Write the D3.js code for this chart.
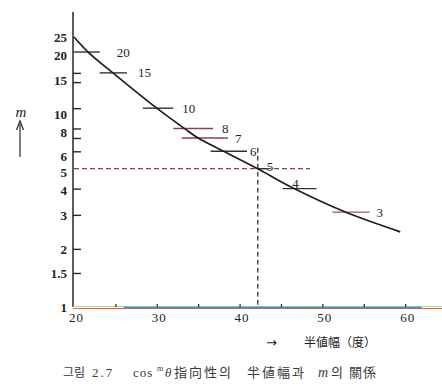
<!DOCTYPE html>
<html><head><meta charset="utf-8">
<script src="https://cdn.jsdelivr.net/npm/d3@7/dist/d3.min.js"></script>
<style>
html,body{margin:0;padding:0;background:#fff;}
svg{display:block;}
</style></head>
<body>
<svg id="chart" width="442" height="387"></svg>
<script>
// ---- data ----
const halfWidth = [20.0, 21.7, 24.7, 30.0, 33.4, 35.0, 38.2, 42.2, 46.4, 52.7, 59.4];
const mCurve    = [25.0, 20.9, 16.3, 10.7, 8.36, 7.5, 6.36, 5.19, 4.14, 3.11, 2.45];

const markerLabels = ["20", "15", "10", "8", "7", "6", "5", "4", "3"];
const markerLevel  = [20.9, 16.3, 10.7, 8.4, 7.5, 6.4, 5.2, 4.1, 3.1];
const markerFrom   = [20.0, 23.1, 28.3, 32.0, 33.0, 36.5, 42.2, 45.2, 51.2];
const markerTo     = [23.1, 26.4, 32.0, 36.8, 38.6, 40.9, 43.4, 49.3, 55.7];

const yLabelValues = [1, 1.5, 2, 3, 4, 5, 6, 8, 10, 15, 20, 25];
const yLabelText   = ["1", "1.5", "2", "3", "4", "5", "6", "8", "10", "15", "20", "25"];
const yTickValues  = [1.5, 2, 3, 4.1, 6.4, 7.5, 8.4, 10.7, 14.6, 16.3];
const xLabelValues = [20, 30, 40, 50, 60];
const xTickValues  = [25, 30, 35, 40, 45, 50, 55, 60];

const refWidth = 42.2, refM = 5.2, refLineEnd = 48.5, refVertTop = 6.67;

const xTitle = "半値幅（度）";
const yTitle = "m";

// ---- drawing ----
const svg = d3.select("#chart");
svg.append("rect").attr("width", 442).attr("height", 387).attr("fill", "#fff");

const x = d3.scaleLinear().domain([20, 64.45]).range([74, 442]);
const y = d3.scaleLog().domain([1, 25]).range([307, 37]);

const ink = "#262626", maroon = "#86405e";
const serif = "'Liberation Serif', 'DejaVu Serif', serif";

// y axis line
svg.append("line").attr("x1", x(20) - 1).attr("x2", x(20) - 1)
  .attr("y1", 12).attr("y2", y(1)).attr("stroke", ink).attr("stroke-width", 1.5);

// y ticks (inward)
const yTicksG = svg.append("g").attr("transform", `translate(${x(20) - 1},0)`)
  .call(d3.axisRight(y).tickValues(yTickValues).tickSize(8).tickFormat(""));
yTicksG.select(".domain").remove();
yTicksG.selectAll("line").attr("stroke", ink).attr("stroke-width", 1.4);

// y labels
const yLabG = svg.append("g").attr("transform", `translate(${x(20) - 1},0)`)
  .call(d3.axisLeft(y).tickValues(yLabelValues).tickSize(0).tickPadding(6)
    .tickFormat((d, i) => yLabelText[i]));
yLabG.select(".domain").remove();
yLabG.selectAll("text").attr("font-family", serif).attr("font-size", 13)
  .attr("fill", "#222").attr("font-weight", "bold");

// x axis lines (scan colour fringes)
svg.append("line").attr("x1", x(20) - 1).attr("x2", 442).attr("y1", 306.5).attr("y2", 306.5)
  .attr("stroke", "#9fdc8f").attr("stroke-width", 1);
svg.append("line").attr("x1", x(20) - 1).attr("x2", 442).attr("y1", 308.5).attr("y2", 308.5)
  .attr("stroke", "#e8603a").attr("stroke-width", 1.2);
svg.append("line").attr("x1", x(26)).attr("x2", x(62)).attr("y1", 307.5).attr("y2", 307.5)
  .attr("stroke", "#3d8ad8").attr("stroke-width", 1.4);

// x ticks (upward)
const xTicksG = svg.append("g").attr("transform", `translate(0,${y(1)})`)
  .call(d3.axisTop(x).tickValues(xTickValues).tickSize(3).tickFormat(""));
xTicksG.select(".domain").remove();
xTicksG.selectAll("line").attr("stroke", ink).attr("stroke-width", 1.2);

// x labels
const xLabG = svg.append("g").attr("transform", `translate(2,${y(1)})`)
  .call(d3.axisBottom(x).tickValues(xLabelValues).tickSize(0).tickPadding(6).tickFormat(d3.format("d")));
xLabG.select(".domain").remove();
xLabG.selectAll("text").attr("font-family", serif).attr("font-size", 13)
  .attr("fill", "#222").attr("letter-spacing", "1px");

// reference dashed lines
svg.append("line").attr("x1", x(20)).attr("x2", x(refLineEnd))
  .attr("y1", y(refM)).attr("y2", y(refM))
  .attr("stroke", maroon).attr("stroke-width", 1.2).attr("stroke-dasharray", "5,3");
svg.append("line").attr("x1", x(refWidth)).attr("x2", x(refWidth))
  .attr("y1", y(refVertTop)).attr("y2", y(1))
  .attr("stroke", ink).attr("stroke-width", 1.2).attr("stroke-dasharray", "5,3");

// markers
const markerColor = ["#333", "#333", "#333", maroon, maroon, "#333", "#333", "#333", "#b04a6a"];
const labelGap = [17, 11, 9, 9, 7, 3, 0, 0, 7];
markerLabels.forEach((lab, i) => {
  svg.append("line")
    .attr("x1", x(markerFrom[i])).attr("x2", x(markerTo[i]))
    .attr("y1", y(markerLevel[i])).attr("y2", y(markerLevel[i]))
    .attr("stroke", markerColor[i]).attr("stroke-width", 1.4);
  const t = svg.append("text").text(lab)
    .attr("font-family", serif).attr("font-size", 13).attr("fill", "#222");
  if (lab === "4") {
    t.attr("x", (x(markerFrom[i]) + x(markerTo[i])) / 2 - 4).attr("y", y(markerLevel[i]) - 1)
      .attr("text-anchor", "middle");
  } else if (lab === "5") {
    t.attr("x", x(markerTo[i]) - 1).attr("y", y(markerLevel[i]) + 2);
  } else {
    t.attr("x", x(markerTo[i]) + labelGap[i]).attr("y", y(markerLevel[i])).attr("dy", "0.35em");
  }
});

// curve
const line = d3.line().x(d => x(d[0])).y(d => y(d[1])).curve(d3.curveCatmullRom.alpha(0.5));
svg.append("path").datum(halfWidth.map((h, i) => [h, mCurve[i]]))
  .attr("d", line).attr("fill", "none").attr("stroke", "#1e1e1e").attr("stroke-width", 1.7);

// y title + arrow
svg.append("text").text(yTitle).attr("x", 21).attr("y", 117)
  .attr("text-anchor", "middle").attr("font-family", serif).attr("font-style", "italic")
  .attr("font-size", 15).attr("fill", "#222");
svg.append("line").attr("x1", 20).attr("x2", 20).attr("y1", 157).attr("y2", 124)
  .attr("stroke", ink).attr("stroke-width", 1.2);
svg.append("path").attr("d", "M16.5,130 L20,121 L23.5,130").attr("fill", "none")
  .attr("stroke", ink).attr("stroke-width", 1.2);

// x title with arrow
svg.append("text").text("→").attr("x", 266).attr("y", 347)
  .attr("font-family", "'DejaVu Sans', sans-serif").attr("font-size", 13).attr("fill", "#222");
svg.append("text").text(xTitle).attr("x", 304).attr("y", 347)
  .attr("font-family", "'Noto Sans CJK JP', sans-serif").attr("font-size", 12)
  .attr("fill", "#222");

// caption
const cap = svg.append("g").attr("fill", "#3a3a3a").attr("font-size", 13);
const cjk = "'Noto Sans CJK KR', sans-serif";
cap.append("text").text("그림").attr("x", 63).attr("y", 377).attr("font-family", cjk).attr("font-size", 12);
cap.append("text").text("2.7").attr("x", 92).attr("y", 377).attr("font-family", serif).attr("letter-spacing", "2px");
cap.append("text").text("cos").attr("x", 133).attr("y", 377).attr("font-family", serif).attr("letter-spacing", "1px");
cap.append("text").text("m").attr("x", 157).attr("y", 371).attr("font-family", serif).attr("font-size", 8);
cap.append("text").text("θ").attr("x", 165).attr("y", 377).attr("font-family", serif).attr("font-style", "italic");
cap.append("text").text("指向性의").attr("x", 174).attr("y", 377).attr("font-family", cjk).attr("letter-spacing", "2px");
cap.append("text").text("半値幅과").attr("x", 247).attr("y", 377).attr("font-family", cjk).attr("letter-spacing", "2px");
cap.append("text").text("m").attr("x", 318).attr("y", 377).attr("font-family", serif).attr("font-style", "italic").attr("font-size", 14);
cap.append("text").text("의").attr("x", 331).attr("y", 377).attr("font-family", cjk);
cap.append("text").text("關係").attr("x", 349).attr("y", 377).attr("font-family", cjk).attr("letter-spacing", "1px");
</script>
</body></html>
